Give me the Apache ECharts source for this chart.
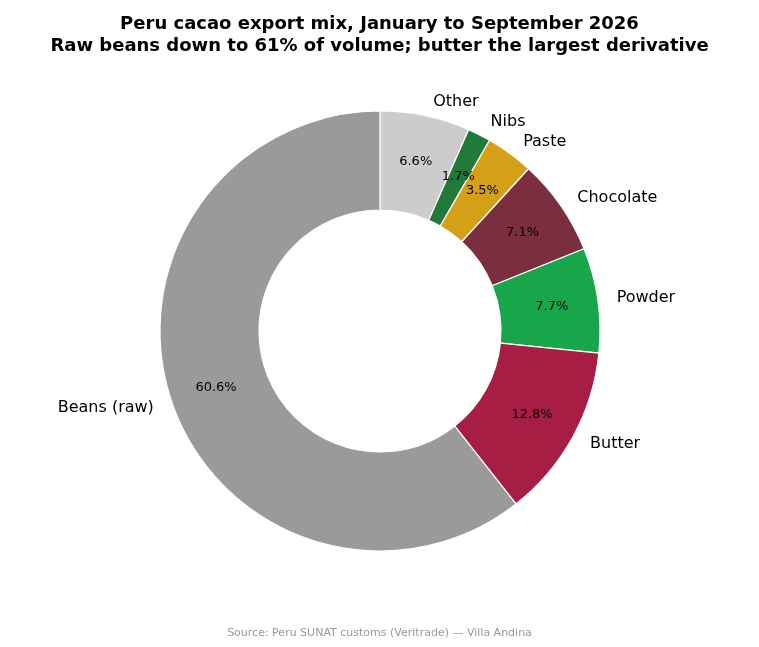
<!DOCTYPE html>
<html><head><meta charset="utf-8">
<script src="https://cdn.jsdelivr.net/npm/echarts@6/dist/echarts.min.js"></script>
<style>html,body{margin:0;padding:0;background:#fff}#c{width:759px;height:647px}</style>
</head><body><div id="c"></div>
<script>
const categories = ["Other","Nibs","Paste","Chocolate","Powder","Butter","Beans (raw)"];
const shares = [6.6,1.7,3.5,7.1,7.7,12.8,60.6];
const colors = ["#cccccc","#217a3a","#d4a017","#7a2e3e","#17a64a","#a61e43","#9a9a9a"];
const data = categories.map((n,i)=>({name:n,value:shares[i],itemStyle:{color:colors[i]}}));
const chart = echarts.init(document.getElementById('c'));
chart.setOption({
  animation:false,
  title:[{text:"Peru cacao export mix, January to September 2026\nRaw beans down to 61% of volume; butter the largest derivative",
    left:'center',top:8,textStyle:{fontFamily:'DejaVu Sans',fontSize:18,fontWeight:'bold',color:'#000',lineHeight:22}},
    {text:"Source: Peru SUNAT customs (Veritrade) — Villa Andina",left:'center',top:623,
    textStyle:{fontFamily:'DejaVu Sans',fontSize:11,fontWeight:'normal',color:'#999'}}],
  series:[
    {type:'pie',center:[380,331],radius:[121,220],startAngle:90,clockwise:true,data:data,
     itemStyle:{borderColor:'#fff',borderWidth:1.2},
     label:{show:true,position:'inside',formatter:p=>p.value.toFixed(1)+'%',
       fontFamily:'DejaVu Sans',fontSize:13,color:'#000'},
     emphasis:{disabled:true}},
    {type:'pie',center:[380,331],radius:[0,220],startAngle:90,clockwise:true,silent:true,z:1,
     data:data.map(d=>({name:d.name,value:d.value,itemStyle:{color:'transparent'}})),
     label:{show:true,position:'outside',formatter:'{b}',fontFamily:'DejaVu Sans',fontSize:16,color:'#000'},
     labelLine:{show:false,length:14,length2:0},avoidLabelOverlap:false}
  ]
});
</script></body></html>
